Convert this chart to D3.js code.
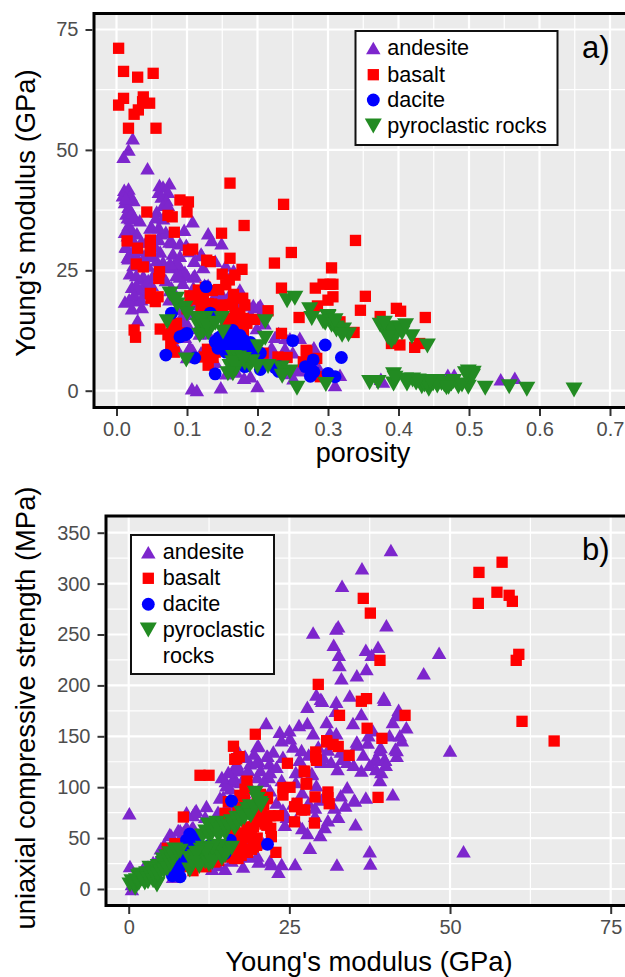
<!DOCTYPE html>
<html>
<head>
<meta charset="utf-8">
<script src="https://cdn.jsdelivr.net/npm/d3@7/dist/d3.min.js"></script>
<style>
    html, body { margin: 0; padding: 0; background: #fff; overflow: hidden; }
    svg { display: block; }
    text { font-family: "Liberation Sans", Arial, sans-serif; }
</style>
</head>
<body>
<svg id="chart" width="625" height="977"></svg>
<script>
// panel a: [porosity, Young's modulus]
var andesiteA = [[.023,52.4],[.017,50.1],[.01,48.6],[.044,46.2],[.011,41.7],[.017,42],[.009,40.6],[.02,40.6],[.024,39.6],[.012,39.2],[.017,38.2],[.014,36.8],[.02,35.8],[.017,34.4],[.022,33.4],[.016,32.3],[.029,32.7],[.033,35.4],[.048,33.9],[.063,32.7],[.014,29.9],[.019,28.5],[.017,27.5],[.024,26.1],[.019,24.4],[.038,23.8],[.033,29.2],[.029,27.8],[.061,42.7],[.066,42.4],[.075,43.1],[.06,41.3],[.073,41.3],[.064,40.3],[.071,39.6],[.066,38.6],[.073,38.6],[.057,37.2],[.066,35.8],[.108,35.2],[.096,33.4],[.079,30.9],[.09,30.6],[.099,30.3],[.062,28.9],[.08,28.5],[.057,27.1],[.13,32.7],[.135,31.3],[.149,30.6],[.12,28.5],[.081,26.1],[.073,25.7],[.09,25.7],[.066,26.8],[.1,24],[.109,23.7],[.123,25.7],[.097,24.7],[.111,24],[.09,23.7],[.038,23.3],[.022,21.6],[.043,21.9],[.078,21.5],[.012,18.5],[.029,18.8],[.022,17.1],[.036,17.4],[.03,14.7],[.04,20.2],[.161,20.2],[.194,17.8],[.201,17.4],[.187,17.8],[.199,13],[.107,.5],[.114,.15],[.148,.7],[.2,1],[.181,2.7],[.156,3.6],[.097,11.2],[.104,9.1],[.118,11.9],[.092,15.4],[.09,12.6],[.118,16.8],[.166,25],[.225,11.2],[.246,10.9],[.239,8.8],[.215,7.4],[.258,4.3],[.251,2.6],[.121,28.2],[.087,26.5],[.076,26.5],[.024,29.2],[.016,27.8],[.076,20.9],[.109,21.5],[.094,22.4],[.097,14.7],[.094,13],[.108,8.5],[.204,17.8],[.218,7.4],[.241,3.7],[.26,4.3],[.31,1.2],[.317,3.3],[.287,4.7],[.378,1.9],[.375,2.5],[.47,3.3],[.479,3.3],[.545,2.4],[.565,2.7],[.013,40],[.016,36],[.022,37],[.025,36],[.012,33],[.013,30],[.025,31],[.028,24],[.035,31],[.04,28],[.042,31],[.045,26],[.05,28],[.055,30],[.06,26],[.052,24],[.045,23],[.035,21],[.028,22],[.018,19],[.025,20],[.035,19],[.05,22],[.065,24],[.07,23],[.085,24],[.075,19],[.085,17],[.1,18],[.105,16],[.11,18],[.13,22],[.14,20],[.15,20],[.17,18],[.175,21],[.19,16],[.2,15],[.205,16],[.21,14],[.22,9],[.23,12],[.24,11],[.25,8],[.27,7],[.28,9],[.26,11],[.1,14],[.115,13],[.13,12],[.085,9],[.1,7],[.12,8],[.14,6],[.17,4],[.19,3],[.05,34],[.056,36],[.07,33],[.075,31],[.06,31.5],[.06,34],[.11,27],[.09,28],[.105,29],[.14,27],[.155,26],[.125,22]];
var basaltA = [[.003,71.1],[.01,66.3],[.03,65.1],[.052,65.9],[.01,60.7],[.003,59.3],[.038,61],[.037,60],[.047,59.7],[.031,58.3],[.025,57.4],[.017,54.5],[.056,54.5],[.161,43.1],[.237,38.7],[.181,34.3],[.149,32.7],[.09,39.6],[.102,39.2],[.1,37.1],[.043,37.1],[.073,36.4],[.079,36.1],[.082,32.9],[.015,31.1],[.03,29.6],[.048,31.3],[.048,30.3],[.048,29],[.102,29.2],[.108,29.4],[.128,27.1],[.133,26.8],[.161,27.5],[.178,25.2],[.168,24],[.16,23],[.15,24.2],[.224,26.5],[.248,28.7],[.028,26.3],[.038,25.7],[.061,24.7],[.06,23.3],[.048,20.2],[.049,19.2],[.059,19.5],[.055,18.5],[.104,19.7],[.025,12.6],[.027,11.1],[.062,12.8],[.234,21.3],[.282,21.3],[.293,22.1],[.307,22.1],[.3,18.8],[.307,19.5],[.285,17.6],[.259,15.2],[.136,20.8],[.126,21.5],[.166,20],[.179,19.2],[.182,17.8],[.123,18.5],[.13,18.1],[.149,17.8],[.161,17.8],[.215,16.6],[.168,16.1],[.196,14.8],[.171,14.7],[.174,13],[.081,13.6],[.078,11.9],[.081,10.9],[.078,8.2],[.129,8.6],[.137,6.9],[.13,5.3],[.234,11.9],[.269,8.4],[.233,6.7],[.242,6.9],[.265,6],[.284,6.7],[.289,2.9],[.339,31.2],[.305,25.5],[.303,22.1],[.353,19.6],[.346,16.7],[.374,15.4],[.397,17.1],[.403,16.5],[.438,15.2],[.317,14.3],[.337,12.1],[.39,9.8],[.402,9.5],[.423,9],[.43,9.8],[.27,8.1],[.229,7],[.116,20.9],[.123,19.9],[.077,9.5],[.073,11.6],[.208,7.8],[.1,17],[.11,19],[.12,17],[.135,18],[.14,16],[.15,16],[.155,14],[.16,15],[.17,13],[.18,12],[.085,14],[.09,12],[.082,8],[.125,7],[.14,8],[.145,21],[.155,22],[.165,18],[.175,16],[.18,15],[.185,14]];
var daciteA = [[.127,21.6],[.078,16.1],[.133,16.1],[.09,11.2],[.1,11.9],[.097,11.6],[.07,7.4],[.111,6.8],[.14,3.5],[.165,12.5],[.14,10.2],[.144,8.8],[.152,9.5],[.161,9.8],[.17,8.8],[.18,10.5],[.182,9.1],[.189,8.5],[.199,7.8],[.204,7.8],[.166,4.7],[.182,5],[.204,4.4],[.225,4.8],[.231,5],[.25,10.4],[.296,9.5],[.268,5],[.279,6.4],[.28,3.9],[.3,3.6],[.31,2.9],[.319,6.9],[.145,11],[.15,11.5],[.16,11],[.17,11],[.175,11.5],[.19,10],[.195,9],[.155,8],[.165,8],[.175,8.5],[.13,14],[.135,14],[.23,4],[.275,5],[.275,3]];
var pyroclasticA = [[.076,20.1],[.086,17.8],[.097,17.1],[.072,14.3],[.114,15],[.126,15],[.116,13.6],[.123,12.2],[.133,13.3],[.149,15],[.151,12.2],[.121,14],[.099,6.4],[.211,14.3],[.211,10.9],[.201,9.1],[.242,18.7],[.253,19.2],[.274,16.8],[.277,15],[.3,15.2],[.296,14],[.305,13.6],[.312,12.6],[.166,6.9],[.161,5],[.173,6.8],[.182,5.7],[.189,5.3],[.215,5],[.234,4.7],[.246,3.9],[.256,.5],[.297,1.3],[.3,15.4],[.293,14.3],[.308,13.7],[.312,13],[.322,12.6],[.329,11.6],[.374,13.6],[.381,12.6],[.388,13],[.402,13],[.392,11.9],[.39,10.2],[.419,11.2],[.441,9.3],[.359,1.7],[.371,1.7],[.393,3.3],[.393,1.4],[.412,1.4],[.42,2.2],[.433,.8],[.443,.3],[.449,1.4],[.461,1.5],[.471,.7],[.478,1.9],[.485,.8],[.499,.7],[.499,3.9],[.506,3.6],[.502,2.6],[.523,.5],[.557,.8],[.582,.3],[.649,.15],[.425,1.6],[.437,1.2],[.455,1.9],[.465,1.2],[.475,1.4],[.12,14.5],[.13,12],[.118,11.5],[.128,13.5],[.14,14],[.165,5.8],[.17,4.6],[.165,3.5],[.158,3.5],[.192,6],[.18,6.5],[.2,5],[.235,3],[.085,19],[.1,16],[.38,14],[.395,11],[.385,11],[.405,12],[.41,13.5],[.31,14.5],[.32,11.5],[.455,1],[.468,.6],[.44,1.4],[.445,1.9],[.49,1.2],[.505,3],[.495,3.5],[.41,2.2],[.395,2.6],[.428,2]];

// panel b: [Young's modulus, uniaxial compressive strength]
var andesiteB = [[40.8,333],[36.3,315],[33.2,298],[40.1,259],[32.6,258],[32.3,256],[28.7,252],[31.9,240],[38.8,238],[36.9,235],[48.3,232],[37.8,230],[32.7,230],[32.8,220],[37,216],[35.5,210],[33.1,207],[45.9,212],[29.2,191],[29.9,187],[30.1,185],[32.3,184],[34.4,190],[39.7,188],[39.8,186],[27.8,179],[32.2,175],[36.2,172],[42,176],[41.7,171],[41.1,164],[43.2,159],[27.8,163],[30.8,164],[34.9,163],[28.7,153],[31.3,153.5],[32.3,153],[38,156],[37.3,151],[40.6,151],[42.2,151],[35.5,145],[35.5,142],[37.2,144],[39.2,139.5],[41.5,138],[41.7,131],[50,136],[38.6,128],[39.8,128],[33.2,128],[30,126],[36.2,116.5],[39.3,115],[39.1,107],[28.5,113],[29.2,102],[41.1,93],[36.9,90],[35.2,87],[33.7,82],[29,72],[32.6,71],[35.3,63.5],[31,67.5],[30.5,61],[29.8,53],[27.8,55],[28.2,40.5],[37.5,37],[52.1,37],[37.6,25],[32.4,24],[21.4,163],[23.5,154.5],[25,156],[26.5,161],[23.8,146],[25.1,148],[20,140.5],[25.6,140],[26.9,136.5],[21.6,131],[18.1,131],[21.9,123.5],[20.2,126],[26.6,127],[18.9,123.5],[16.8,123.5],[17.3,117],[16.3,117],[18.4,115],[28.5,114],[21.8,110],[21,106],[23.8,107],[15.1,106],[16,105.5],[14.7,90.5],[15.8,99],[35.1,88],[24.3,63],[10.5,77.6],[12.1,81.5],[10,72.7],[11.9,71],[25.9,24.6],[23.8,24.6],[22.2,24.6],[23.3,17],[20.2,27],[17.8,22],[18.9,32],[13.9,23.6],[24.6,71],[42.5,146],[41.7,136.5],[39.1,136.5],[38.3,127],[39.9,127],[30.3,130],[30,125],[.1,74.4],[10.3,76],[13.9,76],[15.2,102],[16.5,109],[8.5,56],[9.8,59.6],[7.7,58],[6.6,53],[4.6,30],[.2,22.6],[.5,0],[6.9,12],[4.9,33],[19.1,48],[3.8,26.5],[6.4,54],[8,57.7],[9,61],[10,61],[9,75.5],[14.2,90],[15.8,88.7],[20.2,141],[21.5,131],[19.9,125],[18.1,130],[16.8,120],[18.6,117],[18.6,33],[25.6,84],[1,10],[.5,5],[1.5,15],[2.2,20],[3,22],[5,40],[5.5,44],[7,48],[8,45],[13,65],[14,72],[15,78],[16,82],[17,88],[18,95],[17.5,105],[19,100],[20,110],[20.5,117],[19.5,133],[17,136],[15.5,115],[14.5,110],[22,115],[23,120],[22.5,135],[24,130],[26,115],[27,118],[28,132],[29.5,140],[31,137],[33,135],[34,125],[35,122],[36.5,132],[37.5,122],[38.5,118],[40,122],[31.5,125],[32.5,118],[26,105],[27,95],[28,85],[29,80],[30,88],[32,80],[33,92],[34,100],[26,68],[27,60],[22,97],[23,85],[24,78],[21,45],[20,33],[22,28],[12,32],[13,20],[15,20],[16,28]];
var basaltB = [[58.1,321],[54.5,311],[57.3,291.5],[59.2,288.5],[59.7,282.6],[54.4,280.6],[36.5,285.5],[37.6,271],[60.7,230.5],[60.3,224.6],[39.1,224.6],[29.5,201],[37,187],[36.2,184.4],[32.8,170.6],[43,170.6],[61.2,164.7],[37.1,157.9],[39.4,148],[30.8,145.7],[66.2,145.4],[30.8,144.4],[31.8,142],[32.6,140],[34.3,131.3],[29.1,134.6],[29.1,129.7],[29.2,126.4],[27.4,115],[27.7,103.5],[31,95.3],[31,89.7],[31.2,83.8],[38.8,90],[29,90.4],[28.9,64.8],[27.4,77.6],[19.7,152],[16.3,140.2],[17.2,130],[16.5,127.4],[24.7,123.5],[27.3,115.9],[11.1,111.7],[12.5,111.7],[18.4,106],[18.1,98],[27.6,103],[24,99.5],[25.1,99.9],[24,92.3],[21.6,90],[26.2,84.2],[25.8,80.8],[26.9,77.6],[23.3,72],[25.8,66],[20.7,79.3],[20.7,71],[20.2,72.7],[19.6,66],[19.1,58],[21.2,63.8],[22.1,59.6],[22.2,51.4],[22.9,36],[19.1,39],[19.7,43.2],[17.2,40],[16.5,30],[15,74.4],[15.5,85.8],[15.2,33.4],[17,30],[11.3,22],[8.5,70.7],[7.2,44.5],[11.3,23.3],[16.8,128],[17.3,92],[13.4,26.5],[15.2,31.4],[16.8,31.4],[17.3,38],[19.4,41.3],[19.9,42.9],[16.3,54.3],[15.2,69],[18.4,61],[19.4,61],[21.5,62.6],[21.5,88.7],[14,28],[13.5,33],[14.5,36],[16,36],[17.5,33],[18.5,36],[16,44],[17.5,46],[18.5,50],[19,55],[17.5,55],[20,50],[16.5,60],[16,66],[17,70],[18,76],[19,82],[20,87],[20.5,93],[21,83],[22,72],[18,87],[17,80],[9.5,22],[10,18],[12,22],[8,35],[7,38],[12,27],[6,40]];
var daciteB = [[16,86.4],[21.6,44],[15.8,48],[15,35],[9,48],[10,51.4],[10.8,43],[9.8,38],[8.2,25],[7.2,15.4],[8.5,31.7],[10.8,28.5],[12.6,43],[13.9,35.4],[9.3,47.8],[10.3,51],[11.1,38],[12.4,41.3],[9.5,54],[10.5,47],[9.5,43],[9.3,36],[10,32],[8.8,28],[7.8,20],[7,18],[6.8,13],[8,12]];
var pyroclasticB = [[19.7,94],[18.9,80.8],[20.4,84],[17.6,74.4],[18.6,74.4],[16,66],[14.5,61],[12.9,58],[13.7,64.5],[12.4,62.9],[11.6,40],[14.7,36.6],[13.4,35],[12.1,31.7],[11.3,38],[11.9,26.8],[12.6,28.5],[9.5,30],[9.5,18.7],[10.3,31.7],[7.2,38.3],[5.4,28.5],[5.9,31.7],[5.9,22],[4.6,22],[3.3,20.3],[1.8,13.8],[4.4,3.9],[3,7.2],[2.3,8.8],[1,.7],[.5,7.2],[.2,3.9],[1.5,12],[2.8,13.8],[15,54.7],[16.8,69.4],[4.4,5],[2.8,15],[4.4,18.4],[6.4,34.7],[5.4,25],[.8,5],[1.2,8],[1.6,6],[2,10],[2.5,6],[3,10],[3.5,12],[3.8,8],[3.8,15],[4.5,14],[5,17],[5.5,18],[6,20],[6.5,24],[6.8,28],[7,32],[7.6,35],[8,37],[11.5,52],[12,56],[12.5,52],[13,55],[14,58],[14,52],[15,60],[15.5,62],[16.5,60],[17,65],[17.5,68],[18,70],[18.5,78],[19,72],[19.5,80],[20,88],[20.6,82],[15.5,38],[16,40],[14,42],[13,40],[12,37],[10.5,35],[10,25],[11,22],[12.5,24],[13,26],[14.5,30],[15,33]];

var porosityTicks = [0, 0.1, 0.2, 0.3, 0.4, 0.5, 0.6, 0.7];
var porosityMinor = [0.05, 0.15, 0.25, 0.35, 0.45, 0.55, 0.65];
var modulusTicks = [0, 25, 50, 75];
var modulusMinor = [12.5, 37.5, 62.5];
var strengthTicks = [0, 50, 100, 150, 200, 250, 300, 350];
var strengthMinor = [25, 75, 125, 175, 225, 275, 325];

var rockNames = ["andesite", "basalt", "dacite", "pyroclastic rocks"];
var rockNamesWrapped = ["andesite", "basalt", "dacite", "pyroclastic", "rocks"];

function triangle(w, h, dir) {
    return {
        draw: function (ctx) {
            ctx.moveTo(0, dir * h / 2);
            ctx.lineTo(w / 2, -dir * h / 2);
            ctx.lineTo(-w / 2, -dir * h / 2);
            ctx.closePath();
        }
    };
}

var rockStyles = [
    { path: d3.symbol().type(triangle(14.5, 12.5, -1))(), fill: "#7D26CD" },
    { path: d3.symbol().type(d3.symbolSquare).size(128)(), fill: "#FF0000" },
    { path: d3.symbol().type(d3.symbolCircle).size(130)(), fill: "#0000FF" },
    { path: d3.symbol().type(triangle(17, 15, 1))(), fill: "#228B22" }
];

var svg = d3.select("#chart");

/**
 * Draws one grey ggplot style panel with its grid, points, axes and titles
 */
function drawPanel(opts) {
    var x = d3.scaleLinear().domain(opts.xDomain).range(opts.xRange);
    var y = d3.scaleLinear().domain(opts.yDomain).range(opts.yRange);
    var box = opts.box;
    var g = svg.append("g");

    g.append("rect")
        .attr("x", box.left).attr("y", box.top)
        .attr("width", box.right - box.left).attr("height", box.bottom - box.top)
        .attr("fill", "#EBEBEB");

    var gridV = function (vals, width) {
        g.selectAll(null).data(vals).enter().append("line")
            .attr("x1", x).attr("x2", x)
            .attr("y1", box.top).attr("y2", box.bottom)
            .attr("stroke", "#fff").attr("stroke-width", width);
    };
    var gridH = function (vals, width) {
        g.selectAll(null).data(vals).enter().append("line")
            .attr("y1", y).attr("y2", y)
            .attr("x1", box.left).attr("x2", box.right)
            .attr("stroke", "#fff").attr("stroke-width", width);
    };
    gridV(opts.xMinor, 1.2);
    gridH(opts.yMinor, 1.2);
    gridV(opts.xTicks, 2.2);
    gridH(opts.yTicks, 2.2);

    opts.series.forEach(function (points, i) {
        g.selectAll(null).data(points).enter().append("path")
            .attr("d", rockStyles[i].path)
            .attr("fill", rockStyles[i].fill)
            .attr("transform", function (d) { return "translate(" + x(d[0]) + "," + y(d[1]) + ")"; });
    });

    g.append("rect")
        .attr("x", box.left).attr("y", box.top)
        .attr("width", box.right - box.left).attr("height", box.bottom - box.top)
        .attr("fill", "none").attr("stroke", "#000").attr("stroke-width", 3);

    var xAxis = d3.axisBottom(x).tickValues(opts.xTicks).tickSize(7).tickPadding(6).tickFormat(opts.xFormat);
    var yAxis = d3.axisLeft(y).tickValues(opts.yTicks).tickSize(7).tickPadding(7);
    var xg = g.append("g").attr("transform", "translate(0," + (box.bottom + 1.5) + ")").call(xAxis);
    var yg = g.append("g").attr("transform", "translate(" + (box.left - 1.5) + ",0)").call(yAxis);
    [xg, yg].forEach(function (axis) {
        axis.select(".domain").remove();
        axis.selectAll("line").attr("stroke", "#333").attr("stroke-width", 2);
        axis.selectAll("text").attr("fill", "#4D4D4D").style("font-size", "20px")
            .style("font-family", '"Liberation Sans", Arial, sans-serif');
    });

    g.append("text")
        .attr("x", opts.xTitle.x).attr("y", opts.xTitle.y)
        .attr("text-anchor", "middle")
        .style("font-size", opts.xTitle.size + "px")
        .text(opts.xTitle.label);
    g.append("text")
        .attr("transform", "translate(" + opts.yTitle.x + "," + opts.yTitle.y + ") rotate(-90)")
        .attr("text-anchor", "middle")
        .style("font-size", opts.yTitle.size + "px")
        .text(opts.yTitle.label);

    g.append("text")
        .attr("x", 582).attr("y", opts.tagY)
        .style("font-size", "31px")
        .text(opts.tag);

    // legend
    var lg = opts.legend;
    g.append("rect")
        .attr("x", lg.left).attr("y", lg.top)
        .attr("width", lg.right - lg.left).attr("height", lg.bottom - lg.top)
        .attr("fill", "#fff").attr("stroke", "#111").attr("stroke-width", 2);
    rockStyles.forEach(function (style, i) {
        g.append("path")
            .attr("d", style.path)
            .attr("fill", style.fill)
            .attr("transform", "translate(" + lg.keyX + "," + lg.rows[i] + ")");
    });
    lg.labels.forEach(function (label, i) {
        g.append("text")
            .attr("x", lg.textX).attr("y", lg.rows[i] + 7)
            .style("font-size", "21.6px")
            .text(label);
    });
}

drawPanel({
    xDomain: [0, 0.7], xRange: [116.5, 610],
    yDomain: [0, 75], yRange: [390.7, 29.5],
    box: { left: 94, right: 640, top: 13.5, bottom: 407.5 },
    xTicks: porosityTicks, xMinor: porosityMinor,
    yTicks: modulusTicks, yMinor: modulusMinor,
    xFormat: d3.format(".1f"),
    series: [andesiteA, basaltA, daciteA, pyroclasticA],
    xTitle: { label: "porosity", x: 363, y: 462, size: 27 },
    yTitle: { label: "Young's modulus (GPa)", x: 35, y: 213, size: 27.4 },
    tag: "a)", tagY: 58,
    legend: {
        left: 355.5, right: 557.5, top: 31, bottom: 145,
        keyX: 373.3, textX: 387.3,
        rows: [48, 74.7, 100, 126],
        labels: rockNames
    }
});

drawPanel({
    xDomain: [0, 75], xRange: [128.7, 610.7],
    yDomain: [0, 350], yRange: [889, 532.7],
    box: { left: 106, right: 640, top: 516, bottom: 905.5 },
    xTicks: modulusTicks, xMinor: modulusMinor,
    yTicks: strengthTicks, yMinor: strengthMinor,
    xFormat: d3.format("d"),
    series: [andesiteB, basaltB, daciteB, pyroclasticB],
    xTitle: { label: "Young's modulus (GPa)", x: 369, y: 970.5, size: 27.4 },
    yTitle: { label: "uniaxial compressive strength (MPa)", x: 35, y: 708, size: 27.4 },
    tag: "b)", tagY: 560,
    legend: {
        left: 131, right: 274, top: 535, bottom: 674,
        keyX: 148.3, textX: 162.7,
        rows: [552.3, 578.3, 604.3, 630, 655.7],
        labels: rockNamesWrapped
    }
});
</script>
</body>
</html>
